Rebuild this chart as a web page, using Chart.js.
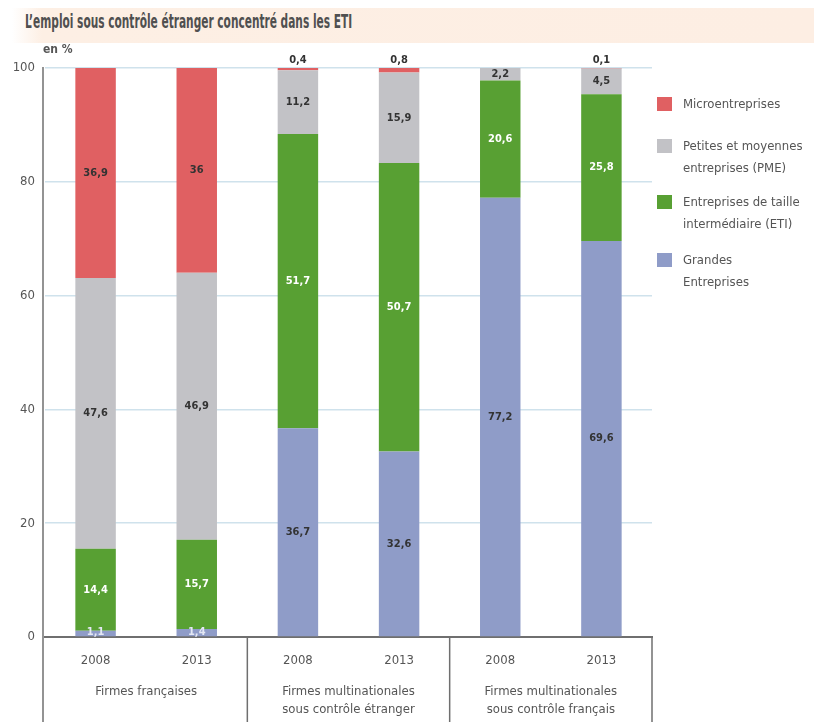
<!DOCTYPE html>
<html lang="fr">
<head>
<meta charset="utf-8">
<title>L'emploi sous contrôle étranger concentré dans les ETI</title>
<script src="https://cdn.jsdelivr.net/npm/chart.js@4.4.1/dist/chart.umd.min.js"></script>
<style>
  html, body { margin: 0; padding: 0; background: #fff; }
  body { width: 814px; height: 722px; position: relative; overflow: hidden;
         font-family: "Liberation Sans Narrow", "DejaVu Sans Condensed", Arial, sans-serif; color: #555; }
  #titlebar { position: absolute; left: 12px; top: 8px; width: 802px; height: 35px;
              background: linear-gradient(to right, #ffffff 0px, #fdefe4 30px, #fdeee3 100%); }
  #titlebar h1 { margin: 0; position: absolute; left: 13px; top: 2px; font-size: 19px; white-space: nowrap;
                 font-weight: bold; color: #505050; transform: scaleX(0.62); transform-origin: left center; }
  #unit { position: absolute; left: 43px; top: 42px; font-size: 12px; font-weight: bold; color: #555; }
  #wrap { position: absolute; left: 0; top: 0; width: 814px; height: 722px; }
  #legend { position: absolute; left: 657px; top: 0; font-size: 13px; line-height: 22px; color: #555; }
  .item { position: absolute; left: 0; padding-left: 26px; white-space: nowrap; }
  .item span { position: absolute; left: 0; top: 4px; width: 15px; height: 14px; }
</style>
</head>
<body>
<div id="wrap"><canvas id="chart"></canvas></div>
<div id="titlebar"><h1>L’emploi sous contrôle étranger concentré dans les ETI</h1></div>
<div id="unit">en %</div>
<div id="legend"></div>
<script>
'use strict';

const years = ['2008', '2013', '2008', '2013', '2008', '2013'];
const groups = [
  ['Firmes françaises'],
  ['Firmes multinationales', 'sous contrôle étranger'],
  ['Firmes multinationales', 'sous contrôle français'],
];
const grandes = [1.1, 1.4, 36.7, 32.6, 77.2, 69.6];
const eti = [14.4, 15.7, 51.7, 50.7, 20.6, 25.8];
const pme = [47.6, 46.9, 11.2, 15.9, 2.2, 4.5];
const micro = [36.9, 36, 0.4, 0.8, 0, 0.1];
const yTicks = [0, 20, 40, 60, 80, 100];

const FONT = '"Liberation Sans Narrow", "DejaVu Sans Condensed", Arial, sans-serif';

const series = [
  { label: 'Grandes Entreprises', lines: ['Grandes', 'Entreprises'], data: grandes, color: '#8f9cc8', text: '#333', small: '#e4e8f4' },
  { label: 'Entreprises de taille intermédiaire (ETI)', lines: ['Entreprises de taille', 'intermédiaire (ETI)'], data: eti, color: '#58a033', text: '#fff' },
  { label: 'Petites et moyennes entreprises (PME)', lines: ['Petites et moyennes', 'entreprises (PME)'], data: pme, color: '#c2c2c6', text: '#333' },
  { label: 'Microentreprises', lines: ['Microentreprises'], data: micro, color: '#e06062', text: '#333' },
];

// legend, top to bottom = stack top to bottom
const legendTops = [93, 135, 191, 249];
const legendEl = document.getElementById('legend');
series.slice().reverse().forEach((s, k) => {
  const div = document.createElement('div');
  div.className = 'item';
  div.style.top = legendTops[k] + 'px';
  div.innerHTML = `<span style="background:${s.color}"></span>` + s.lines.join('<br>');
  legendEl.appendChild(div);
});

const fmt = v => String(v).replace('.', ',');

const segmentLabels = {
  id: 'segmentLabels',
  afterDatasetsDraw(chart) {
    const ctx = chart.ctx;
    ctx.save();
    ctx.font = 'bold 11px ' + FONT;
    ctx.textAlign = 'center';
    ctx.textBaseline = 'middle';
    chart.data.datasets.forEach((ds, di) => {
      const meta = chart.getDatasetMeta(di);
      meta.data.forEach((bar, i) => {
        const v = ds.data[i];
        if (!v) return;
        const top = Math.min(bar.y, bar.base);
        const h = Math.abs(bar.base - bar.y);
        if (h < 8 && di === series.length - 1) {
          ctx.fillStyle = '#333';
          ctx.fillText(fmt(v), bar.x, top - 8);
        } else if (h < 8) {
          ctx.fillStyle = series[di].small || series[di].text;
          ctx.fillText(fmt(v), bar.x, top + h / 2 - 1);
        } else {
          ctx.fillStyle = series[di].text;
          ctx.fillText(fmt(v), bar.x, top + h / 2);
        }
      });
    });
    ctx.restore();
  }
};

const groupAxis = {
  id: 'groupAxis',
  afterDraw(chart) {
    const ctx = chart.ctx;
    const x = chart.scales.x;
    const area = chart.chartArea;
    const bottom = chart.height;
    ctx.save();
    ctx.strokeStyle = '#6f6f6f';
    ctx.lineWidth = 1.5;
    // left axis line, running past the plot
    ctx.beginPath();
    ctx.moveTo(area.left - 2, area.top - 1);
    ctx.lineTo(area.left - 2, bottom);
    ctx.stroke();
    // group separators
    [1.5, 3.5, 5.5].forEach(p => {
      const px = x.getPixelForValue(p);
      ctx.beginPath();
      ctx.moveTo(px, area.bottom);
      ctx.lineTo(px, bottom);
      ctx.stroke();
    });
    ctx.fillStyle = '#555';
    ctx.font = '13px ' + FONT;
    ctx.textAlign = 'center';
    ctx.textBaseline = 'middle';
    groups.forEach((lines, g) => {
      const cx = (x.getPixelForValue(g * 2) + x.getPixelForValue(g * 2 + 1)) / 2;
      lines.forEach((t, k) => ctx.fillText(t, cx, area.bottom + 55 + k * 18));
    });
    ctx.restore();
  }
};

new Chart(document.getElementById('chart'), {
  type: 'bar',
  data: {
    labels: years,
    datasets: series.map(s => ({
      label: s.label,
      data: s.data,
      backgroundColor: s.color,
      borderWidth: 0,
      barPercentage: 0.4,
      categoryPercentage: 1,
    })),
  },
  options: {
    responsive: true,
    maintainAspectRatio: false,
    animation: false,
    layout: { padding: { left: 0, right: 162, top: 68, bottom: 0 } },
    plugins: {
      legend: { display: false },
      tooltip: { enabled: false },
    },
    scales: {
      x: {
        stacked: true,
        grid: { display: false, drawTicks: false },
        border: { display: true, color: '#6f6f6f', width: 2 },
        ticks: { color: '#555', padding: 16, font: { family: FONT, size: 13 } },
        afterFit: s => { s.height = 85; },
      },
      y: {
        stacked: true,
        min: 0,
        max: 100,
        afterBuildTicks: s => { s.ticks = yTicks.map(v => ({ value: v })); },
        grid: { color: '#cfe2ec', lineWidth: 1.5, drawTicks: false },
        border: { display: false },
        ticks: { color: '#555', padding: 10, font: { family: FONT, size: 13 } },
        afterFit: s => { s.width = 45; },
      },
    },
  },
  plugins: [segmentLabels, groupAxis],
});
</script>
</body>
</html>
